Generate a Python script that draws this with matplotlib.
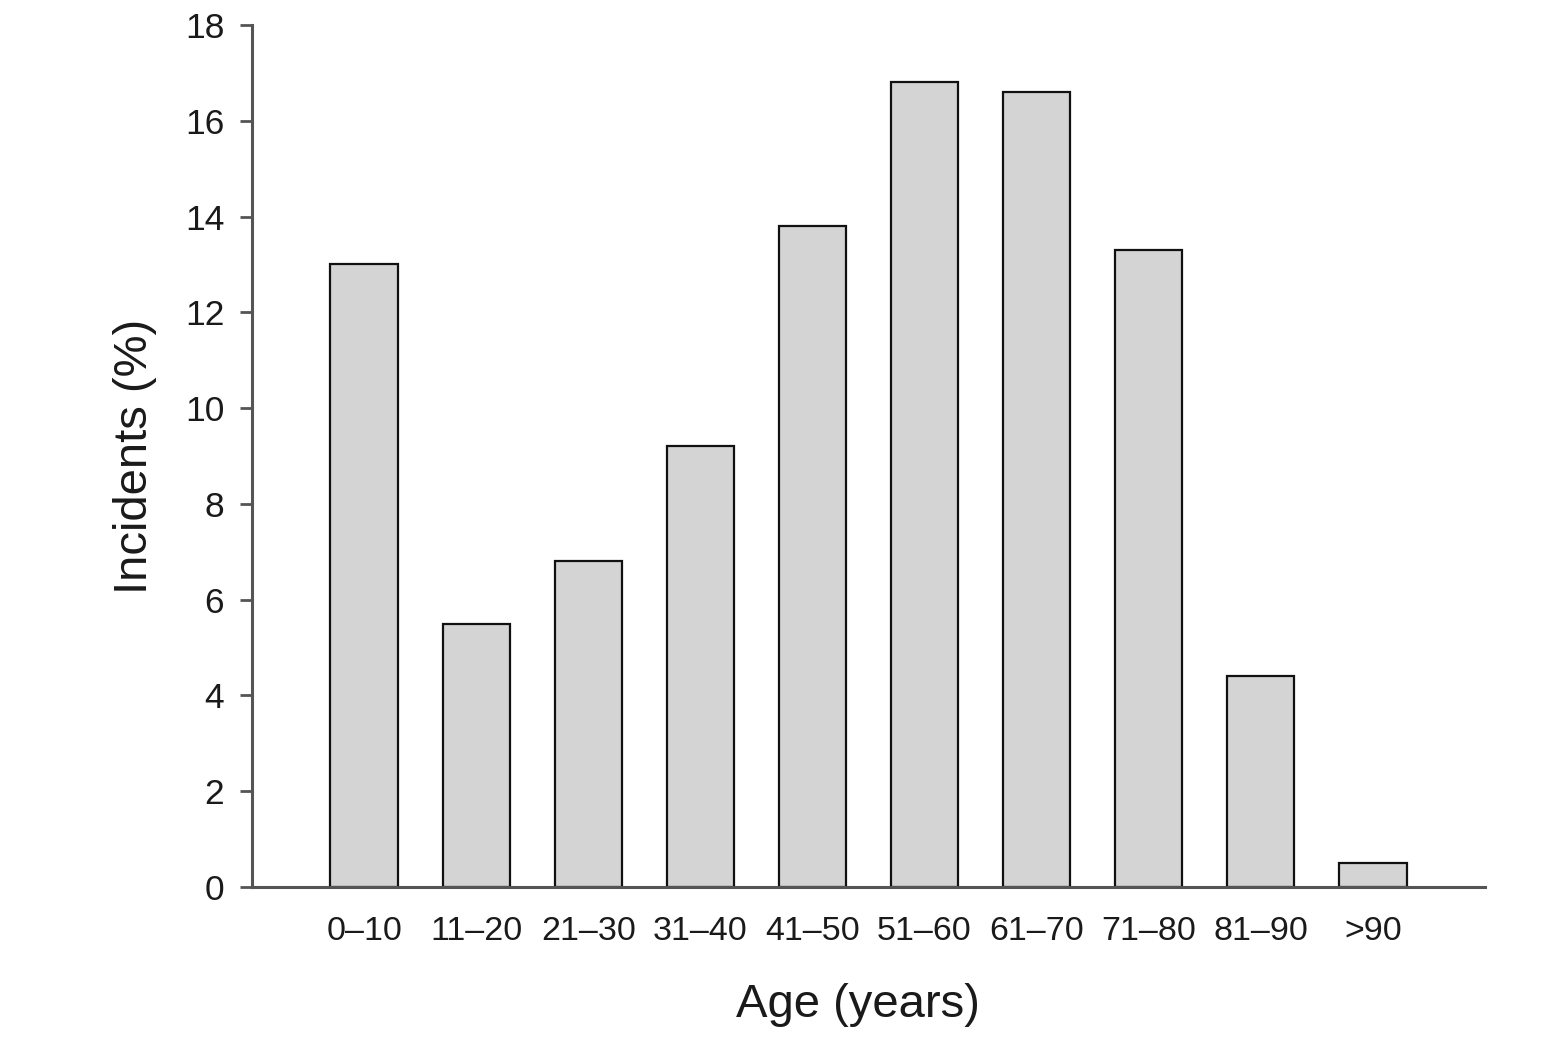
import matplotlib
matplotlib.use("Agg")
import matplotlib.pyplot as plt

categories = ["0–10", "11–20", "21–30", "31–40", "41–50", "51–60", "61–70", "71–80", "81–90", ">90"]
values = [13.0, 5.5, 6.8, 9.2, 13.8, 16.8, 16.6, 13.3, 4.4, 0.5]
yticks = [0, 2, 4, 6, 8, 10, 12, 14, 16, 18]

plt.rcParams['font.family'] = ['Liberation Sans', 'DejaVu Sans']

fig = plt.figure(figsize=(15.49, 10.54), dpi=100)
ax = fig.add_axes([252/1549, 1 - 887/1054, (1485-252)/1549, (887-25)/1054])

x = list(range(len(categories)))
ax.bar(x, values, width=0.6, color='#d4d4d4', edgecolor='#111111', linewidth=1.6, zorder=2)

ax.set_xlim(-1, 10)
ax.set_ylim(0, 18)
ax.set_yticks(yticks)
ax.set_xticks(x)
ax.set_xticklabels(categories)

for s in ['top', 'right']:
    ax.spines[s].set_visible(False)
for s in ['left', 'bottom']:
    ax.spines[s].set_color('#555555')
    ax.spines[s].set_linewidth(2.2)
ax.spines['bottom'].set_zorder(3)

ax.tick_params(axis='y', direction='out', length=9, width=2.0, color='#555555',
               labelsize=25.5, pad=11, labelcolor='#1a1a1a')
ax.tick_params(axis='x', length=0, labelsize=24.5, pad=21, labelcolor='#1a1a1a')

ax.set_xlabel("Age (years)", fontsize=34, labelpad=26, color='#1a1a1a')
ax.xaxis.label.set_x((858 - 252) / (1485 - 252))
ax.set_ylabel("Incidents (%)", fontsize=34, labelpad=20, color='#1a1a1a')

fig.savefig("out.png", dpi=100, facecolor='white')
